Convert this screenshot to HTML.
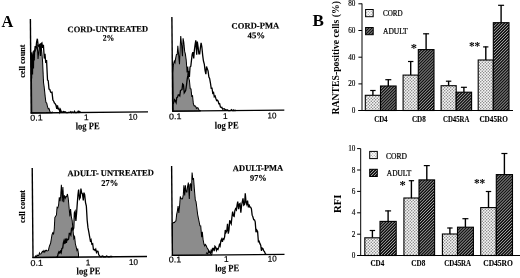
<!DOCTYPE html>
<html><head><meta charset="utf-8"><title>Figure</title>
<style>
html,body{margin:0;padding:0;background:#fff;}
body{width:520px;height:278px;overflow:hidden;font-family:"Liberation Serif",serif;}
svg{display:block;}
text{font-family:"Liberation Serif",serif;fill:#000;}
.t{font-weight:bold;font-size:8.7px;stroke:#000;stroke-width:0.15px;}
.k{font-family:"Liberation Sans",sans-serif;font-size:8.4px;stroke:#000;stroke-width:0.2px;}
.l{font-weight:bold;font-size:10px;stroke:#000;stroke-width:0.12px;}
.c{font-weight:bold;font-size:8.4px;stroke:#000;stroke-width:0.15px;}
.big{font-weight:bold;font-size:15.5px;}
.n{font-size:7.2px;stroke:#000;stroke-width:0.15px;}
.cat{font-weight:bold;font-size:8.2px;stroke:#000;stroke-width:0.12px;}
.lg{font-size:7.3px;stroke:#000;stroke-width:0.22px;}
.yl{font-weight:bold;}
.st{font-size:12.5px;font-weight:bold;}
</style></head><body>
<svg width="520" height="278" viewBox="0 0 520 278">
<defs>
<filter id="bl" x="0" y="0" width="520" height="278" filterUnits="userSpaceOnUse"><feGaussianBlur stdDeviation="0.4"/></filter>
<pattern id="dots" width="3" height="3" patternUnits="userSpaceOnUse">
<rect width="3" height="3" fill="#f6f6f6"/>
<circle cx="0.75" cy="0.75" r="0.72" fill="#7c7c7c"/>
<circle cx="2.25" cy="2.25" r="0.72" fill="#7c7c7c"/>
</pattern>
<pattern id="dotsL" width="3" height="3" patternUnits="userSpaceOnUse">
<rect width="3" height="3" fill="#fbfbfb"/>
<circle cx="0.75" cy="0.75" r="0.6" fill="#8a8a8a"/>
<circle cx="2.25" cy="2.25" r="0.6" fill="#8a8a8a"/>
</pattern>
<pattern id="hatch" width="2.1" height="2.1" patternUnits="userSpaceOnUse" patternTransform="rotate(-45)">
<rect width="2.1" height="2.1" fill="#0c0c0c"/>
<rect x="0" y="0" width="2.1" height="0.78" fill="#a4a4a4"/>
</pattern>
</defs>
<rect width="520" height="278" fill="#fff"/>
<g id="all" filter="url(#bl)">

<g transform="rotate(-0.50 87.2 112.5)">
<path d="M31.8,112.5 L31.8,54.2 L32.5,52.6 L33.3,61.0 L34.0,55.0 L34.8,52.7 L35.5,50.8 L36.3,49.1 L37.0,47.2 L37.8,43.9 L38.5,58.5 L39.3,51.0 L40.0,44.8 L40.8,43.5 L41.5,43.6 L42.3,51.7 L43.0,60.4 L43.8,82.1 L44.5,87.5 L45.3,96.0 L46.0,102.0 L46.8,102.7 L47.5,106.0 L48.3,108.5 L49.0,108.2 L49.8,110.7 L50.5,112.4 L51.3,112.5 L52.0,111.9 L52.0,112.5 Z" fill="#8c8c8c" stroke="#000" stroke-width="1.0" stroke-linejoin="miter"/>
<path d="M31.9,78.0 L31.9,78.0 L32.3,52.0 L32.8,74.0 L33.3,54.0 L33.8,68.0 L34.3,50.0 L34.7,60.0 L35.0,51.8 L35.8,45.7 L36.5,48.1 L37.2,41.7 L38.0,38.3 L38.8,45.3 L39.5,46.2 L40.2,44.1 L41.0,55.5 L41.8,43.3 L42.5,42.5 L43.2,47.4 L44.0,44.4 L44.8,58.2 L45.5,53.4 L46.2,62.7 L47.0,59.8 L47.8,79.7 L48.5,80.4 L49.2,88.7 L50.0,89.2 L50.8,91.7 L51.5,92.3 L52.2,92.0 L53.0,99.7 L53.8,100.9 L54.5,102.8 L55.2,103.3 L56.0,104.8 L56.8,108.5 L57.5,105.2 L58.2,108.5 L59.0,108.2 L59.8,111.7 L60.5,109.4 L61.2,111.3 L62.0,112.0 L62.8,111.7 L63.5,111.3 L64.8,111.6 L65.5,111.6 L66.2,112.5 L67.0,112.5 L67.8,112.5 L68.5,112.3 L69.2,112.3 L70.0,112.3 L70.8,111.6 L71.5,112.5 L72.2,111.9 L73.0,112.3 L73.8,112.5 L74.5,111.3 L75.2,112.5 L76.0,112.5 L76.8,112.4 L77.5,112.3 L78.2,111.2 L79.0,112.4 L79.8,111.5 L80.5,112.5" fill="none" stroke="#000" stroke-width="1.3" stroke-linejoin="miter"/>
<line x1="31.2" y1="18.5" x2="31.2" y2="113.1" stroke="#000" stroke-width="1.4"/>
<line x1="30.6" y1="112.5" x2="148.0" y2="112.5" stroke="#000" stroke-width="1.3"/>
<text x="68.3" y="32.2" class="t" style="font-size:8.7px" textLength="80.5" lengthAdjust="spacingAndGlyphs">CORD-UNTREATED</text>
<text x="103.3" y="40.9" class="t" style="font-size:8.7px" textLength="11.6" lengthAdjust="spacingAndGlyphs">2%</text>
<text x="30.1" y="120.2" class="k" textLength="12.5" lengthAdjust="spacingAndGlyphs">0.1</text>
<text x="84.0" y="120.2" class="k">1</text>
<text x="128.5" y="120.2" class="k" textLength="9.0" lengthAdjust="spacingAndGlyphs">10</text>
<text x="75.5" y="129.3" class="l" textLength="24.0" lengthAdjust="spacingAndGlyphs">log PE</text>
</g>
<text transform="translate(24.7,77.8) rotate(-90)" class="c" textLength="33.2" lengthAdjust="spacingAndGlyphs">cell count</text>
<g transform="rotate(-0.50 228.7 110.7)">
<path d="M173.2,110.7 L173.2,72.2 L173.9,63.8 L174.7,60.6 L175.4,62.3 L176.2,57.4 L176.9,54.1 L177.7,53.9 L178.4,45.3 L179.2,55.6 L179.9,63.7 L180.7,47.1 L181.4,35.6 L182.2,45.2 L182.9,55.9 L183.7,37.9 L184.4,41.7 L185.2,51.0 L185.9,53.7 L186.7,60.3 L187.4,72.2 L188.2,66.2 L188.9,77.0 L189.7,80.2 L190.4,88.3 L191.2,88.6 L191.9,95.9 L192.7,95.5 L193.4,103.4 L194.2,105.7 L194.9,105.5 L195.7,106.1 L196.4,108.2 L197.2,107.5 L197.9,107.5 L198.7,109.2 L199.4,110.1 L200.2,110.2 L200.2,110.7 Z" fill="#8c8c8c" stroke="#000" stroke-width="1.0" stroke-linejoin="miter"/>
<path d="M173.2,103.5 L173.2,103.5 L173.9,101.6 L174.7,99.3 L175.4,100.4 L176.2,102.2 L176.9,97.1 L177.7,96.7 L178.4,94.4 L179.2,94.4 L179.9,95.4 L180.7,90.0 L181.4,89.6 L182.2,89.1 L182.9,83.6 L183.7,84.4 L184.4,92.5 L185.2,91.4 L185.9,90.0 L186.7,84.9 L187.4,79.3 L188.2,75.1 L188.9,70.7 L189.7,76.7 L190.4,66.7 L191.2,65.9 L191.9,60.0 L192.7,53.9 L193.4,51.8 L194.2,58.2 L194.9,50.0 L195.7,44.2 L196.4,40.1 L197.2,54.4 L197.9,41.2 L198.7,47.1 L199.4,53.7 L200.2,53.7 L200.9,47.9 L201.7,42.7 L202.4,46.5 L203.2,55.4 L203.9,60.8 L204.7,63.8 L205.4,70.1 L206.2,74.0 L206.9,66.3 L207.7,68.9 L208.4,70.7 L209.2,76.9 L209.9,78.3 L210.7,83.0 L211.4,88.2 L212.2,88.1 L212.9,93.0 L213.7,92.3 L214.4,96.6 L215.2,95.9 L215.9,98.2 L216.7,100.5 L217.4,100.1 L218.2,101.0 L218.9,103.7 L219.7,103.6 L220.4,106.9 L221.2,107.5 L221.9,107.2 L222.7,109.2 L223.4,108.9 L224.2,108.7 L224.9,109.4 L225.7,109.7 L226.4,110.2 L227.2,109.7 L227.9,110.4 L228.7,110.7 L230.1,110.7 L230.8,110.2 L231.6,109.7 L232.3,110.4 L233.1,110.7 L233.8,110.0 L234.6,110.7 L235.3,110.7 L236.1,109.9" fill="none" stroke="#000" stroke-width="1.3" stroke-linejoin="miter"/>
<line x1="172.7" y1="16.5" x2="172.7" y2="111.3" stroke="#000" stroke-width="1.4"/>
<line x1="172.1" y1="110.7" x2="284.3" y2="110.7" stroke="#000" stroke-width="1.3"/>
<text x="232.3" y="28.8" class="t" style="font-size:8.7px" textLength="47.7" lengthAdjust="spacingAndGlyphs">CORD-PMA</text>
<text x="248.2" y="38.5" class="t" style="font-size:8.7px" textLength="17.6" lengthAdjust="spacingAndGlyphs">45%</text>
<text x="169.0" y="118.9" class="k" textLength="12.5" lengthAdjust="spacingAndGlyphs">0.1</text>
<text x="223.0" y="118.9" class="k">1</text>
<text x="267.5" y="118.9" class="k" textLength="9.0" lengthAdjust="spacingAndGlyphs">10</text>
<text x="214.6" y="128.6" class="l" textLength="24.0" lengthAdjust="spacingAndGlyphs">log PE</text>
</g>
<g transform="rotate(-0.50 89.0 257.0)">
<path d="M35.0,257.0 L35.0,256.5 L35.8,255.4 L36.5,256.4 L37.2,254.6 L38.0,255.2 L38.8,254.9 L39.5,252.4 L40.2,253.7 L41.0,253.5 L41.8,252.0 L42.5,250.9 L43.2,251.7 L44.0,250.2 L44.8,251.7 L45.5,250.3 L46.2,249.8 L47.0,250.6 L47.8,250.4 L48.5,250.1 L49.2,246.8 L50.0,244.7 L50.8,242.5 L51.5,238.5 L52.2,234.3 L53.0,232.5 L53.8,233.6 L54.5,228.7 L55.2,217.3 L56.0,215.9 L56.8,214.9 L57.5,207.0 L58.2,207.4 L59.0,205.2 L59.8,197.0 L60.5,201.0 L61.2,195.9 L62.0,184.5 L62.8,201.3 L63.5,186.7 L64.2,202.0 L65.0,195.1 L65.8,198.0 L66.5,196.3 L67.2,196.5 L68.0,193.8 L68.8,198.6 L69.5,207.4 L70.2,216.4 L71.0,208.8 L71.8,217.3 L72.5,220.5 L73.2,229.6 L74.0,238.4 L74.8,236.6 L75.5,243.9 L76.2,246.6 L77.0,250.3 L77.8,249.0 L78.5,253.6 L78.5,257.0 Z" fill="#8c8c8c" stroke="#000" stroke-width="1.0" stroke-linejoin="miter"/>
<path d="M56.0,257.0 L56.0,257.0 L56.8,256.8 L57.5,256.3 L58.2,253.4 L59.0,251.5 L59.8,252.6 L60.5,251.0 L61.2,252.4 L62.0,248.2 L62.8,247.8 L63.5,242.7 L64.2,240.4 L65.0,243.8 L65.8,238.3 L66.5,242.7 L67.2,238.9 L68.0,239.7 L68.8,238.8 L69.5,233.3 L70.2,233.3 L71.0,234.9 L71.8,228.2 L72.5,227.7 L73.2,229.6 L74.0,227.9 L74.8,212.5 L75.5,211.2 L76.2,220.8 L77.0,212.5 L77.8,202.8 L78.5,194.6 L79.2,189.4 L80.0,198.8 L80.8,197.4 L81.5,188.5 L82.2,192.8 L83.0,193.8 L83.8,200.4 L84.5,192.6 L85.2,194.7 L86.0,202.5 L86.8,206.1 L87.5,220.2 L88.2,227.4 L89.0,231.9 L89.8,236.7 L90.5,240.8 L91.2,239.7 L92.0,244.3 L92.8,243.8 L93.5,249.5 L94.2,249.4 L95.0,250.5 L95.8,249.2 L96.5,252.5 L97.2,251.3 L98.0,251.4 L98.8,255.1 L99.5,255.7 L100.2,256.7 L101.2,257.0 L102.0,256.3 L102.8,256.1 L103.5,257.0 L104.2,257.0 L105.0,256.9 L105.8,257.0 L106.5,256.2 L107.2,256.4 L108.0,257.0 L108.8,256.9 L109.5,257.0 L110.2,256.6 L111.0,256.7 L111.8,256.6 L112.5,257.0" fill="none" stroke="#000" stroke-width="1.3" stroke-linejoin="miter"/>
<line x1="33.0" y1="167.5" x2="33.0" y2="257.6" stroke="#000" stroke-width="1.4"/>
<line x1="32.4" y1="257.0" x2="147.0" y2="257.0" stroke="#000" stroke-width="1.3"/>
<text x="68.3" y="176.1" class="t" style="font-size:8.7px" textLength="86.2" lengthAdjust="spacingAndGlyphs">ADULT- UNTREATED</text>
<text x="101.9" y="186.0" class="t" style="font-size:8.7px" textLength="17.0" lengthAdjust="spacingAndGlyphs">27%</text>
<text x="30.4" y="265.4" class="k" textLength="12.5" lengthAdjust="spacingAndGlyphs">0.1</text>
<text x="85.7" y="265.4" class="k">1</text>
<text x="129.0" y="265.4" class="k" textLength="9.0" lengthAdjust="spacingAndGlyphs">10</text>
<text x="76.4" y="274.3" class="l" textLength="24.0" lengthAdjust="spacingAndGlyphs">log PE</text>
</g>
<text transform="translate(25.3,223.0) rotate(-90)" class="c" textLength="33.0" lengthAdjust="spacingAndGlyphs">cell count</text>
<g transform="rotate(-0.50 228.4 254.8)">
<path d="M172.5,254.8 L172.5,222.9 L173.2,222.5 L174.0,222.1 L174.8,222.1 L175.5,220.9 L176.2,220.5 L177.0,214.2 L177.8,210.4 L178.5,205.6 L179.2,212.5 L180.0,205.8 L180.8,196.0 L181.5,198.0 L182.2,198.6 L183.0,198.5 L183.8,194.5 L184.5,184.9 L185.2,195.0 L186.0,184.9 L186.8,191.6 L187.5,191.7 L188.2,185.9 L189.0,182.3 L189.8,198.6 L190.5,184.4 L191.2,183.6 L192.0,190.7 L192.8,172.2 L193.5,179.5 L194.2,177.7 L195.0,189.5 L195.8,199.9 L196.5,201.3 L197.2,207.2 L198.0,214.3 L198.8,218.3 L199.5,222.0 L200.2,225.5 L201.0,225.6 L201.8,237.0 L202.5,231.5 L203.2,239.2 L204.0,243.8 L204.8,245.7 L205.5,244.3 L206.2,245.2 L207.0,247.3 L207.8,248.7 L208.5,249.8 L209.2,252.0 L210.0,252.4 L210.8,253.6 L211.5,254.2 L211.5,254.8 Z" fill="#8c8c8c" stroke="#000" stroke-width="1.0" stroke-linejoin="miter"/>
<path d="M206.0,252.6 L206.0,252.6 L206.8,253.0 L207.5,253.5 L208.2,252.6 L209.0,250.9 L209.8,251.9 L210.5,252.7 L211.2,250.3 L212.0,252.6 L212.8,248.2 L213.5,248.2 L214.2,250.9 L215.0,246.1 L215.8,247.1 L216.5,250.2 L217.2,248.5 L218.0,249.4 L218.8,247.3 L219.5,244.7 L220.2,245.9 L221.0,240.7 L221.8,239.1 L222.5,241.9 L223.2,238.6 L224.0,239.3 L224.8,236.8 L225.5,230.0 L226.2,232.4 L227.0,230.9 L227.8,223.7 L228.5,233.6 L229.2,230.0 L230.0,220.4 L230.8,222.2 L231.5,223.8 L232.2,217.5 L233.0,211.7 L233.8,216.0 L234.5,216.4 L235.2,210.9 L236.0,208.8 L236.8,210.0 L237.5,205.3 L238.2,201.7 L239.0,209.2 L239.8,204.1 L240.5,203.6 L241.2,212.8 L242.0,205.6 L242.8,201.7 L243.5,198.4 L244.2,205.3 L245.0,204.5 L245.8,193.4 L246.5,202.4 L247.2,204.4 L248.0,200.7 L248.8,207.6 L249.5,204.6 L250.2,207.3 L251.0,207.3 L251.8,208.9 L252.5,215.4 L253.2,217.0 L254.0,220.0 L254.8,220.1 L255.5,222.1 L256.2,232.5 L257.0,230.3 L257.8,231.6 L258.5,241.7 L259.2,241.4 L260.0,243.9 L260.8,245.5 L261.5,251.1 L262.2,248.3 L263.0,248.9 L263.8,251.2 L264.5,251.9 L265.2,253.7 L266.0,254.7" fill="none" stroke="#000" stroke-width="1.3" stroke-linejoin="miter"/>
<line x1="172.4" y1="165.5" x2="172.4" y2="255.4" stroke="#000" stroke-width="1.4"/>
<line x1="171.8" y1="254.8" x2="284.5" y2="254.8" stroke="#000" stroke-width="1.3"/>
<text x="233.6" y="171.2" class="t" style="font-size:8.7px" textLength="50.4" lengthAdjust="spacingAndGlyphs">ADULT-PMA</text>
<text x="250.6" y="180.9" class="t" style="font-size:8.7px" textLength="16.8" lengthAdjust="spacingAndGlyphs">97%</text>
<text x="168.6" y="262.0" class="k" textLength="12.5" lengthAdjust="spacingAndGlyphs">0.1</text>
<text x="224.0" y="262.0" class="k">1</text>
<text x="267.6" y="262.0" class="k" textLength="9.0" lengthAdjust="spacingAndGlyphs">10</text>
<text x="215.0" y="271.4" class="l" textLength="24.0" lengthAdjust="spacingAndGlyphs">log PE</text>
</g>
<text x="1.6" y="26.5" class="big" style="font-size:17.2px" textLength="11.8" lengthAdjust="spacingAndGlyphs">A</text>
<text x="312.6" y="26.4" class="big" style="font-size:17.3px" textLength="11.4" lengthAdjust="spacingAndGlyphs">B</text>
<line x1="372.9" y1="90.2" x2="372.9" y2="95.3" stroke="#000" stroke-width="1.4"/>
<line x1="370.2" y1="90.5" x2="375.6" y2="90.5" stroke="#000" stroke-width="1.2"/>
<rect x="365.3" y="95.3" width="15.2" height="15.2" fill="url(#dots)" stroke="#000" stroke-width="1.1"/>
<line x1="388.3" y1="79.4" x2="388.3" y2="86.0" stroke="#000" stroke-width="1.4"/>
<line x1="385.3" y1="79.7" x2="391.3" y2="79.7" stroke="#000" stroke-width="1.2"/>
<rect x="380.5" y="86.0" width="15.6" height="24.5" fill="url(#hatch)" stroke="#000" stroke-width="1.1"/>
<line x1="410.7" y1="61.2" x2="410.7" y2="75.1" stroke="#000" stroke-width="1.4"/>
<line x1="408.0" y1="61.5" x2="413.4" y2="61.5" stroke="#000" stroke-width="1.2"/>
<rect x="403.1" y="75.1" width="15.2" height="35.4" fill="url(#dots)" stroke="#000" stroke-width="1.1"/>
<line x1="426.1" y1="33.5" x2="426.1" y2="49.6" stroke="#000" stroke-width="1.4"/>
<line x1="423.1" y1="33.8" x2="429.1" y2="33.8" stroke="#000" stroke-width="1.2"/>
<rect x="418.3" y="49.6" width="15.7" height="60.9" fill="url(#hatch)" stroke="#000" stroke-width="1.1"/>
<line x1="448.6" y1="80.9" x2="448.6" y2="85.7" stroke="#000" stroke-width="1.4"/>
<line x1="445.9" y1="81.2" x2="451.3" y2="81.2" stroke="#000" stroke-width="1.2"/>
<rect x="441.1" y="85.7" width="15.1" height="24.8" fill="url(#dots)" stroke="#000" stroke-width="1.1"/>
<line x1="463.9" y1="87.0" x2="463.9" y2="92.2" stroke="#000" stroke-width="1.4"/>
<line x1="460.9" y1="87.3" x2="466.9" y2="87.3" stroke="#000" stroke-width="1.2"/>
<rect x="456.2" y="92.2" width="15.4" height="18.3" fill="url(#hatch)" stroke="#000" stroke-width="1.1"/>
<line x1="485.8" y1="46.6" x2="485.8" y2="60.0" stroke="#000" stroke-width="1.4"/>
<line x1="483.1" y1="46.9" x2="488.4" y2="46.9" stroke="#000" stroke-width="1.2"/>
<rect x="478.2" y="60.0" width="15.1" height="50.5" fill="url(#dots)" stroke="#000" stroke-width="1.1"/>
<line x1="501.1" y1="5.0" x2="501.1" y2="22.7" stroke="#000" stroke-width="1.4"/>
<line x1="498.1" y1="5.3" x2="504.1" y2="5.3" stroke="#000" stroke-width="1.2"/>
<rect x="493.3" y="22.7" width="15.7" height="87.8" fill="url(#hatch)" stroke="#000" stroke-width="1.1"/>
<line x1="362.0" y1="3.5" x2="362.0" y2="110.5" stroke="#000" stroke-width="1"/>
<line x1="358.4" y1="110.5" x2="513.0" y2="110.5" stroke="#000" stroke-width="1.1"/>
<line x1="358.4" y1="3.8" x2="362.0" y2="3.8" stroke="#000" stroke-width="1"/>
<text x="355.4" y="6.3" class="n" text-anchor="end">80</text>
<line x1="358.4" y1="30.5" x2="362.0" y2="30.5" stroke="#000" stroke-width="1"/>
<text x="355.4" y="33.0" class="n" text-anchor="end">60</text>
<line x1="358.4" y1="57.2" x2="362.0" y2="57.2" stroke="#000" stroke-width="1"/>
<text x="355.4" y="59.7" class="n" text-anchor="end">40</text>
<line x1="358.4" y1="83.9" x2="362.0" y2="83.9" stroke="#000" stroke-width="1"/>
<text x="355.4" y="86.4" class="n" text-anchor="end">20</text>
<line x1="358.4" y1="110.5" x2="362.0" y2="110.5" stroke="#000" stroke-width="1"/>
<text x="355.4" y="113.0" class="n" text-anchor="end">0</text>
<text x="374.2" y="121.8" class="cat" textLength="13.3" lengthAdjust="spacingAndGlyphs">CD4</text>
<text x="412.0" y="121.8" class="cat" textLength="13.8" lengthAdjust="spacingAndGlyphs">CD8</text>
<text x="443.0" y="121.8" class="cat" textLength="26.3" lengthAdjust="spacingAndGlyphs">CD45RA</text>
<text x="479.4" y="121.8" class="cat" textLength="28.5" lengthAdjust="spacingAndGlyphs">CD45RO</text>
<rect x="365.6" y="9.5" width="7.6" height="7.2" fill="url(#dotsL)" stroke="#000" stroke-width="1"/>
<text x="383.0" y="15.7" class="lg" textLength="19.6" lengthAdjust="spacingAndGlyphs">CORD</text>
<rect x="365.6" y="27.5" width="7.6" height="7.2" fill="url(#hatch)" stroke="#000" stroke-width="1"/>
<text x="383.0" y="34.1" class="lg" textLength="24.7" lengthAdjust="spacingAndGlyphs">ADULT</text>
<text transform="translate(339.2,114.5) rotate(-90)" class="yl" style="font-size:10.4px" textLength="113.5" lengthAdjust="spacingAndGlyphs">RANTES-positive cells (%)</text>
<text x="413.8" y="51.6" class="st" text-anchor="middle">*</text>
<text x="474.6" y="49.6" class="st" textLength="11.4" lengthAdjust="spacingAndGlyphs" text-anchor="middle">**</text>
<line x1="372.4" y1="230.2" x2="372.4" y2="237.8" stroke="#000" stroke-width="1.4"/>
<line x1="369.7" y1="230.5" x2="375.1" y2="230.5" stroke="#000" stroke-width="1.2"/>
<rect x="364.8" y="237.8" width="15.2" height="17.7" fill="url(#dots)" stroke="#000" stroke-width="1.1"/>
<line x1="388.1" y1="210.6" x2="388.1" y2="221.4" stroke="#000" stroke-width="1.4"/>
<line x1="385.1" y1="210.9" x2="391.1" y2="210.9" stroke="#000" stroke-width="1.2"/>
<rect x="380.0" y="221.4" width="16.2" height="34.1" fill="url(#hatch)" stroke="#000" stroke-width="1.1"/>
<line x1="411.4" y1="180.4" x2="411.4" y2="198.0" stroke="#000" stroke-width="1.4"/>
<line x1="408.8" y1="180.7" x2="414.1" y2="180.7" stroke="#000" stroke-width="1.2"/>
<rect x="403.9" y="198.0" width="15.1" height="57.5" fill="url(#dots)" stroke="#000" stroke-width="1.1"/>
<line x1="426.8" y1="165.3" x2="426.8" y2="179.9" stroke="#000" stroke-width="1.4"/>
<line x1="423.8" y1="165.6" x2="429.8" y2="165.6" stroke="#000" stroke-width="1.2"/>
<rect x="419.0" y="179.9" width="15.6" height="75.6" fill="url(#hatch)" stroke="#000" stroke-width="1.1"/>
<line x1="449.9" y1="227.7" x2="449.9" y2="234.0" stroke="#000" stroke-width="1.4"/>
<line x1="447.2" y1="228.0" x2="452.6" y2="228.0" stroke="#000" stroke-width="1.2"/>
<rect x="442.4" y="234.0" width="15.1" height="21.5" fill="url(#dots)" stroke="#000" stroke-width="1.1"/>
<line x1="465.4" y1="218.4" x2="465.4" y2="227.2" stroke="#000" stroke-width="1.4"/>
<line x1="462.4" y1="218.7" x2="468.4" y2="218.7" stroke="#000" stroke-width="1.2"/>
<rect x="457.5" y="227.2" width="15.9" height="28.3" fill="url(#hatch)" stroke="#000" stroke-width="1.1"/>
<line x1="488.5" y1="191.2" x2="488.5" y2="207.6" stroke="#000" stroke-width="1.4"/>
<line x1="485.8" y1="191.5" x2="491.2" y2="191.5" stroke="#000" stroke-width="1.2"/>
<rect x="480.7" y="207.6" width="15.6" height="47.9" fill="url(#dots)" stroke="#000" stroke-width="1.1"/>
<line x1="504.4" y1="153.2" x2="504.4" y2="174.6" stroke="#000" stroke-width="1.4"/>
<line x1="501.4" y1="153.5" x2="507.4" y2="153.5" stroke="#000" stroke-width="1.2"/>
<rect x="496.3" y="174.6" width="16.2" height="80.9" fill="url(#hatch)" stroke="#000" stroke-width="1.1"/>
<line x1="360.7" y1="148.6" x2="360.7" y2="255.5" stroke="#000" stroke-width="1"/>
<line x1="357.1" y1="255.5" x2="520.0" y2="255.5" stroke="#000" stroke-width="1.1"/>
<line x1="357.1" y1="148.6" x2="360.7" y2="148.6" stroke="#000" stroke-width="1"/>
<text x="355.4" y="151.1" class="n" text-anchor="end">10</text>
<line x1="357.1" y1="170.0" x2="360.7" y2="170.0" stroke="#000" stroke-width="1"/>
<text x="355.4" y="172.5" class="n" text-anchor="end">8</text>
<line x1="357.1" y1="191.4" x2="360.7" y2="191.4" stroke="#000" stroke-width="1"/>
<text x="355.4" y="193.9" class="n" text-anchor="end">6</text>
<line x1="357.1" y1="212.8" x2="360.7" y2="212.8" stroke="#000" stroke-width="1"/>
<text x="355.4" y="215.3" class="n" text-anchor="end">4</text>
<line x1="357.1" y1="234.2" x2="360.7" y2="234.2" stroke="#000" stroke-width="1"/>
<text x="355.4" y="236.7" class="n" text-anchor="end">2</text>
<line x1="357.1" y1="255.5" x2="360.7" y2="255.5" stroke="#000" stroke-width="1"/>
<text x="355.4" y="258.0" class="n" text-anchor="end">0</text>
<text x="370.4" y="266.1" class="cat" textLength="13.8" lengthAdjust="spacingAndGlyphs">CD4</text>
<text x="411.3" y="266.1" class="cat" textLength="14.0" lengthAdjust="spacingAndGlyphs">CD8</text>
<text x="444.2" y="266.1" class="cat" textLength="26.9" lengthAdjust="spacingAndGlyphs">CD45RA</text>
<text x="483.2" y="266.1" class="cat" textLength="29.7" lengthAdjust="spacingAndGlyphs">CD45RO</text>
<rect x="369.7" y="151.4" width="7.6" height="7.2" fill="url(#dotsL)" stroke="#000" stroke-width="1"/>
<text x="386.0" y="158.6" class="lg" textLength="21.0" lengthAdjust="spacingAndGlyphs">CORD</text>
<rect x="369.7" y="169.3" width="7.6" height="7.2" fill="url(#hatch)" stroke="#000" stroke-width="1"/>
<text x="386.8" y="176.1" class="lg" textLength="24.4" lengthAdjust="spacingAndGlyphs">ADULT</text>
<text transform="translate(341.2,213.0) rotate(-90)" class="yl" style="font-size:10.5px" textLength="18.5" lengthAdjust="spacingAndGlyphs">RFI</text>
<text x="402.6" y="188.6" class="st" text-anchor="middle">*</text>
<text x="479.6" y="187.4" class="st" textLength="11.4" lengthAdjust="spacingAndGlyphs" text-anchor="middle">**</text>
</g></svg>
</body></html>
